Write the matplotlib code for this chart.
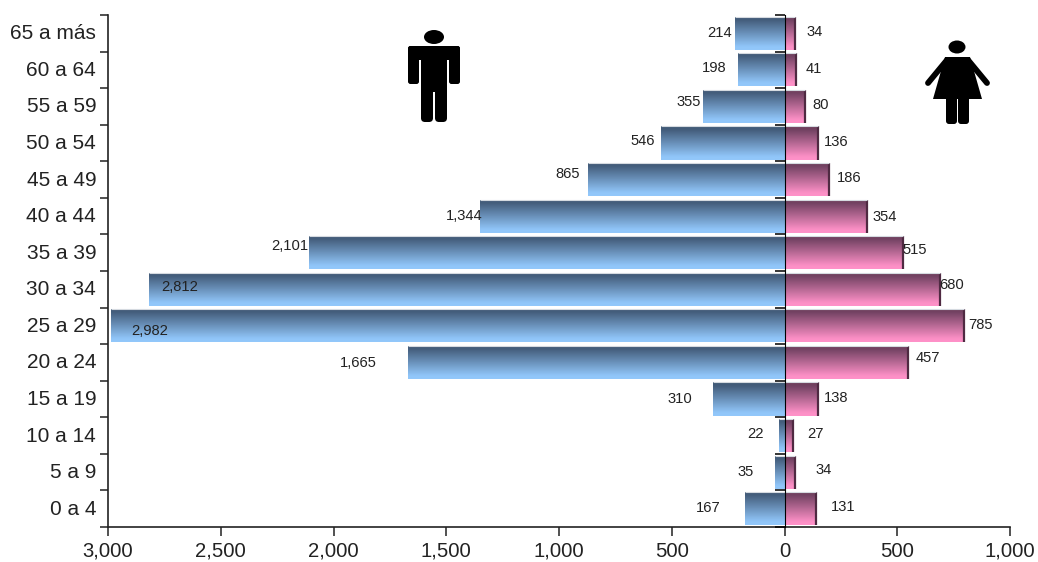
import numpy as np
import matplotlib
matplotlib.use('Agg')
import matplotlib.pyplot as plt
from matplotlib.colors import LinearSegmentedColormap
from matplotlib.patches import Ellipse, Polygon, FancyBboxPatch
from matplotlib.transforms import ScaledTranslation

plt.rcParams['font.family'] = ['Liberation Sans', 'DejaVu Sans']

# top to bottom as in the picture
grupos = ['65 a más', '60 a 64', '55 a 59', '50 a 54', '45 a 49', '40 a 44', '35 a 39',
          '30 a 34', '25 a 29', '20 a 24', '15 a 19', '10 a 14', '5 a 9', '0 a 4']
# bar lengths as drawn, the printed labels do not always agree with them
hombres = [220, 206, 361, 548, 871, 1350, 2109, 2818, 2987, 1670, 317, 24, 42, 175]
mujeres = [47, 53, 91, 149, 197, 365, 525, 689, 795, 547, 149, 38, 47, 139]
etiq_hombres = ['214', '198', '355', '546', '865', '1,344', '2,101', '2,812', '2,982', '1,665',
                '310', '22', '35', '167']
etiq_mujeres = ['34', '41', '80', '136', '186', '354', '515', '680', '785', '457',
                '138', '27', '34', '131']
xticks = [-3000, -2500, -2000, -1500, -1000, -500, 0, 500, 1000]
xticklabels = ['3,000', '2,500', '2,000', '1,500', '1,000', '500', '0', '500', '1,000']

# label offsets from the end of each bar, in pixels
dx_h = [-15, -24, -14, -18, -20, -16, -19, 31, 39, -50, -33, -24, -29, -37]
dy_h = [0, 2, 4, 2, 6, 0, 7, 2, -5, -1, 0, 2, 0, 1]
dx_m = [20, 17, 16, 18, 20, 18, 12, 12, 17, 20, 18, 22, 29, 27]
dy_m = [1, 1, 1, 1, 2, -1, 3, 4, 1, 4, 1, 2, 2, 2]

W, H = 1038, 562
fig = plt.figure(figsize=(W / 100, H / 100), dpi=100)
ax = fig.add_axes([108 / W, 1 - 527 / H, 902 / W, 512 / H])

cmap_h = LinearSegmentedColormap.from_list('h', [(0, '#3f5874'), (0.12, '#455f7e'), (0.9, '#90c5f8'), (1, '#93c8fb')])
cmap_m = LinearSegmentedColormap.from_list('m', [(0, '#6c3d58'), (0.12, '#744364'), (0.9, '#fb8fc5'), (1, '#ff92c9')])
grad = np.linspace(0, 1, 64).reshape(-1, 1)

y = np.arange(len(grupos)) + 0.5
alto = 0.91
bars_h = ax.barh(y, [-v for v in hombres], height=alto, color='none', edgecolor='none')
bars_m = ax.barh(y, mujeres, height=alto, color='none', edgecolor='none')

for bars, cmap in ((bars_h, cmap_h), (bars_m, cmap_m)):
    for b in bars:
        x0, x1 = sorted((b.get_x(), b.get_x() + b.get_width()))
        y0, y1 = b.get_y(), b.get_y() + b.get_height()
        im = ax.imshow(grad, cmap=cmap, aspect='auto', origin='upper',
                       extent=(x0, x1, y1, y0), zorder=2)
        im.set_clip_path(b)

# dark side on the pink bars, pale rim on top of all of them
ax.vlines(mujeres, y - alto / 2, y + alto / 2, color='#4f2a42', lw=1.6, zorder=3)
ax.hlines(y - alto / 2, [-v for v in hombres], mujeres, color='#d5dae0', lw=0.8, zorder=3)

ax.set_xlim(-3000, 1000)
ax.set_ylim(len(grupos), 0)
ax.set_xticks(xticks, xticklabels)
ax.set_yticks(np.arange(len(grupos) + 1), [''] * (len(grupos) + 1))
ax.set_yticks(y, grupos, minor=True)
ax.tick_params(axis='y', which='major', length=6, width=1.1, color='#222222')
ax.tick_params(axis='y', which='minor', length=0, pad=8.5, labelsize=15, labelcolor='#222222')
ax.tick_params(axis='x', length=6.5, width=1.1, color='#222222', pad=4, labelsize=14.6,
               labelcolor='#222222')
for t in ax.get_yticklabels(minor=True):
    t.set_transform(t.get_transform() + ScaledTranslation(0, 1.5 / 100, fig.dpi_scale_trans))
for s in ('top', 'right'):
    ax.spines[s].set_visible(False)
for s in ('left', 'bottom'):
    ax.spines[s].set_linewidth(1.2)
    ax.spines[s].set_color('#222222')

# axis through zero, ticks pointing left
centro = ax.secondary_yaxis(0.75)
centro.set_yticks(np.arange(len(grupos) + 1), [''] * (len(grupos) + 1))
centro.yaxis.set_ticks_position('left')
centro.tick_params(length=7, width=1.1, color='black', direction='out')
centro.spines['left'].set_linewidth(1.4)
centro.spines['left'].set_color('black')
centro.set_zorder(5)

for i in range(len(grupos)):
    ax.annotate(etiq_hombres[i], (-hombres[i], y[i]), xytext=(dx_h[i], dy_h[i]),
                textcoords='offset pixels', ha='center', va='center',
                fontsize=10.6, color='#222222', zorder=6)
    ax.annotate(etiq_mujeres[i], (mujeres[i], y[i]), xytext=(dx_m[i], dy_m[i]),
                textcoords='offset pixels', ha='center', va='center',
                fontsize=10.6, color='#222222', zorder=6)

# pictograms, in pixel coordinates of the figure
ic = fig.add_axes([0, 0, 1, 1], facecolor='none')
ic.set_xlim(0, W)
ic.set_ylim(H, 0)
ic.axis('off')


def caja(x0, y0, x1, y1, r=2.5):
    ic.add_patch(FancyBboxPatch((x0 + r, y0 + r), x1 - x0 - 2 * r, y1 - y0 - 2 * r,
                                boxstyle='round,pad=%g' % r, fc='black', ec='none'))


# man
ic.add_patch(Ellipse((434, 37), 20, 14, fc='black', ec='none'))
caja(408, 46, 460, 60)
caja(408, 46, 419, 84)
caja(449, 46, 460, 84)
caja(421, 50, 447, 92, r=1)
caja(421, 70, 433, 122, r=4)
caja(435, 70, 447, 122, r=4)

# woman
ic.add_patch(Ellipse((957, 47), 17, 13, fc='black', ec='none'))
ic.add_patch(Polygon([(945, 57), (970, 57), (982, 99), (933, 99)], fc='black', ec='none'))
ic.plot([947, 928], [60, 83], color='black', lw=4.2, solid_capstyle='round')
ic.plot([968, 987], [60, 83], color='black', lw=4.2, solid_capstyle='round')
caja(946, 92, 957, 124, r=3)
caja(958, 92, 969, 124, r=3)

fig.savefig('out.png', dpi=100, facecolor='white')
